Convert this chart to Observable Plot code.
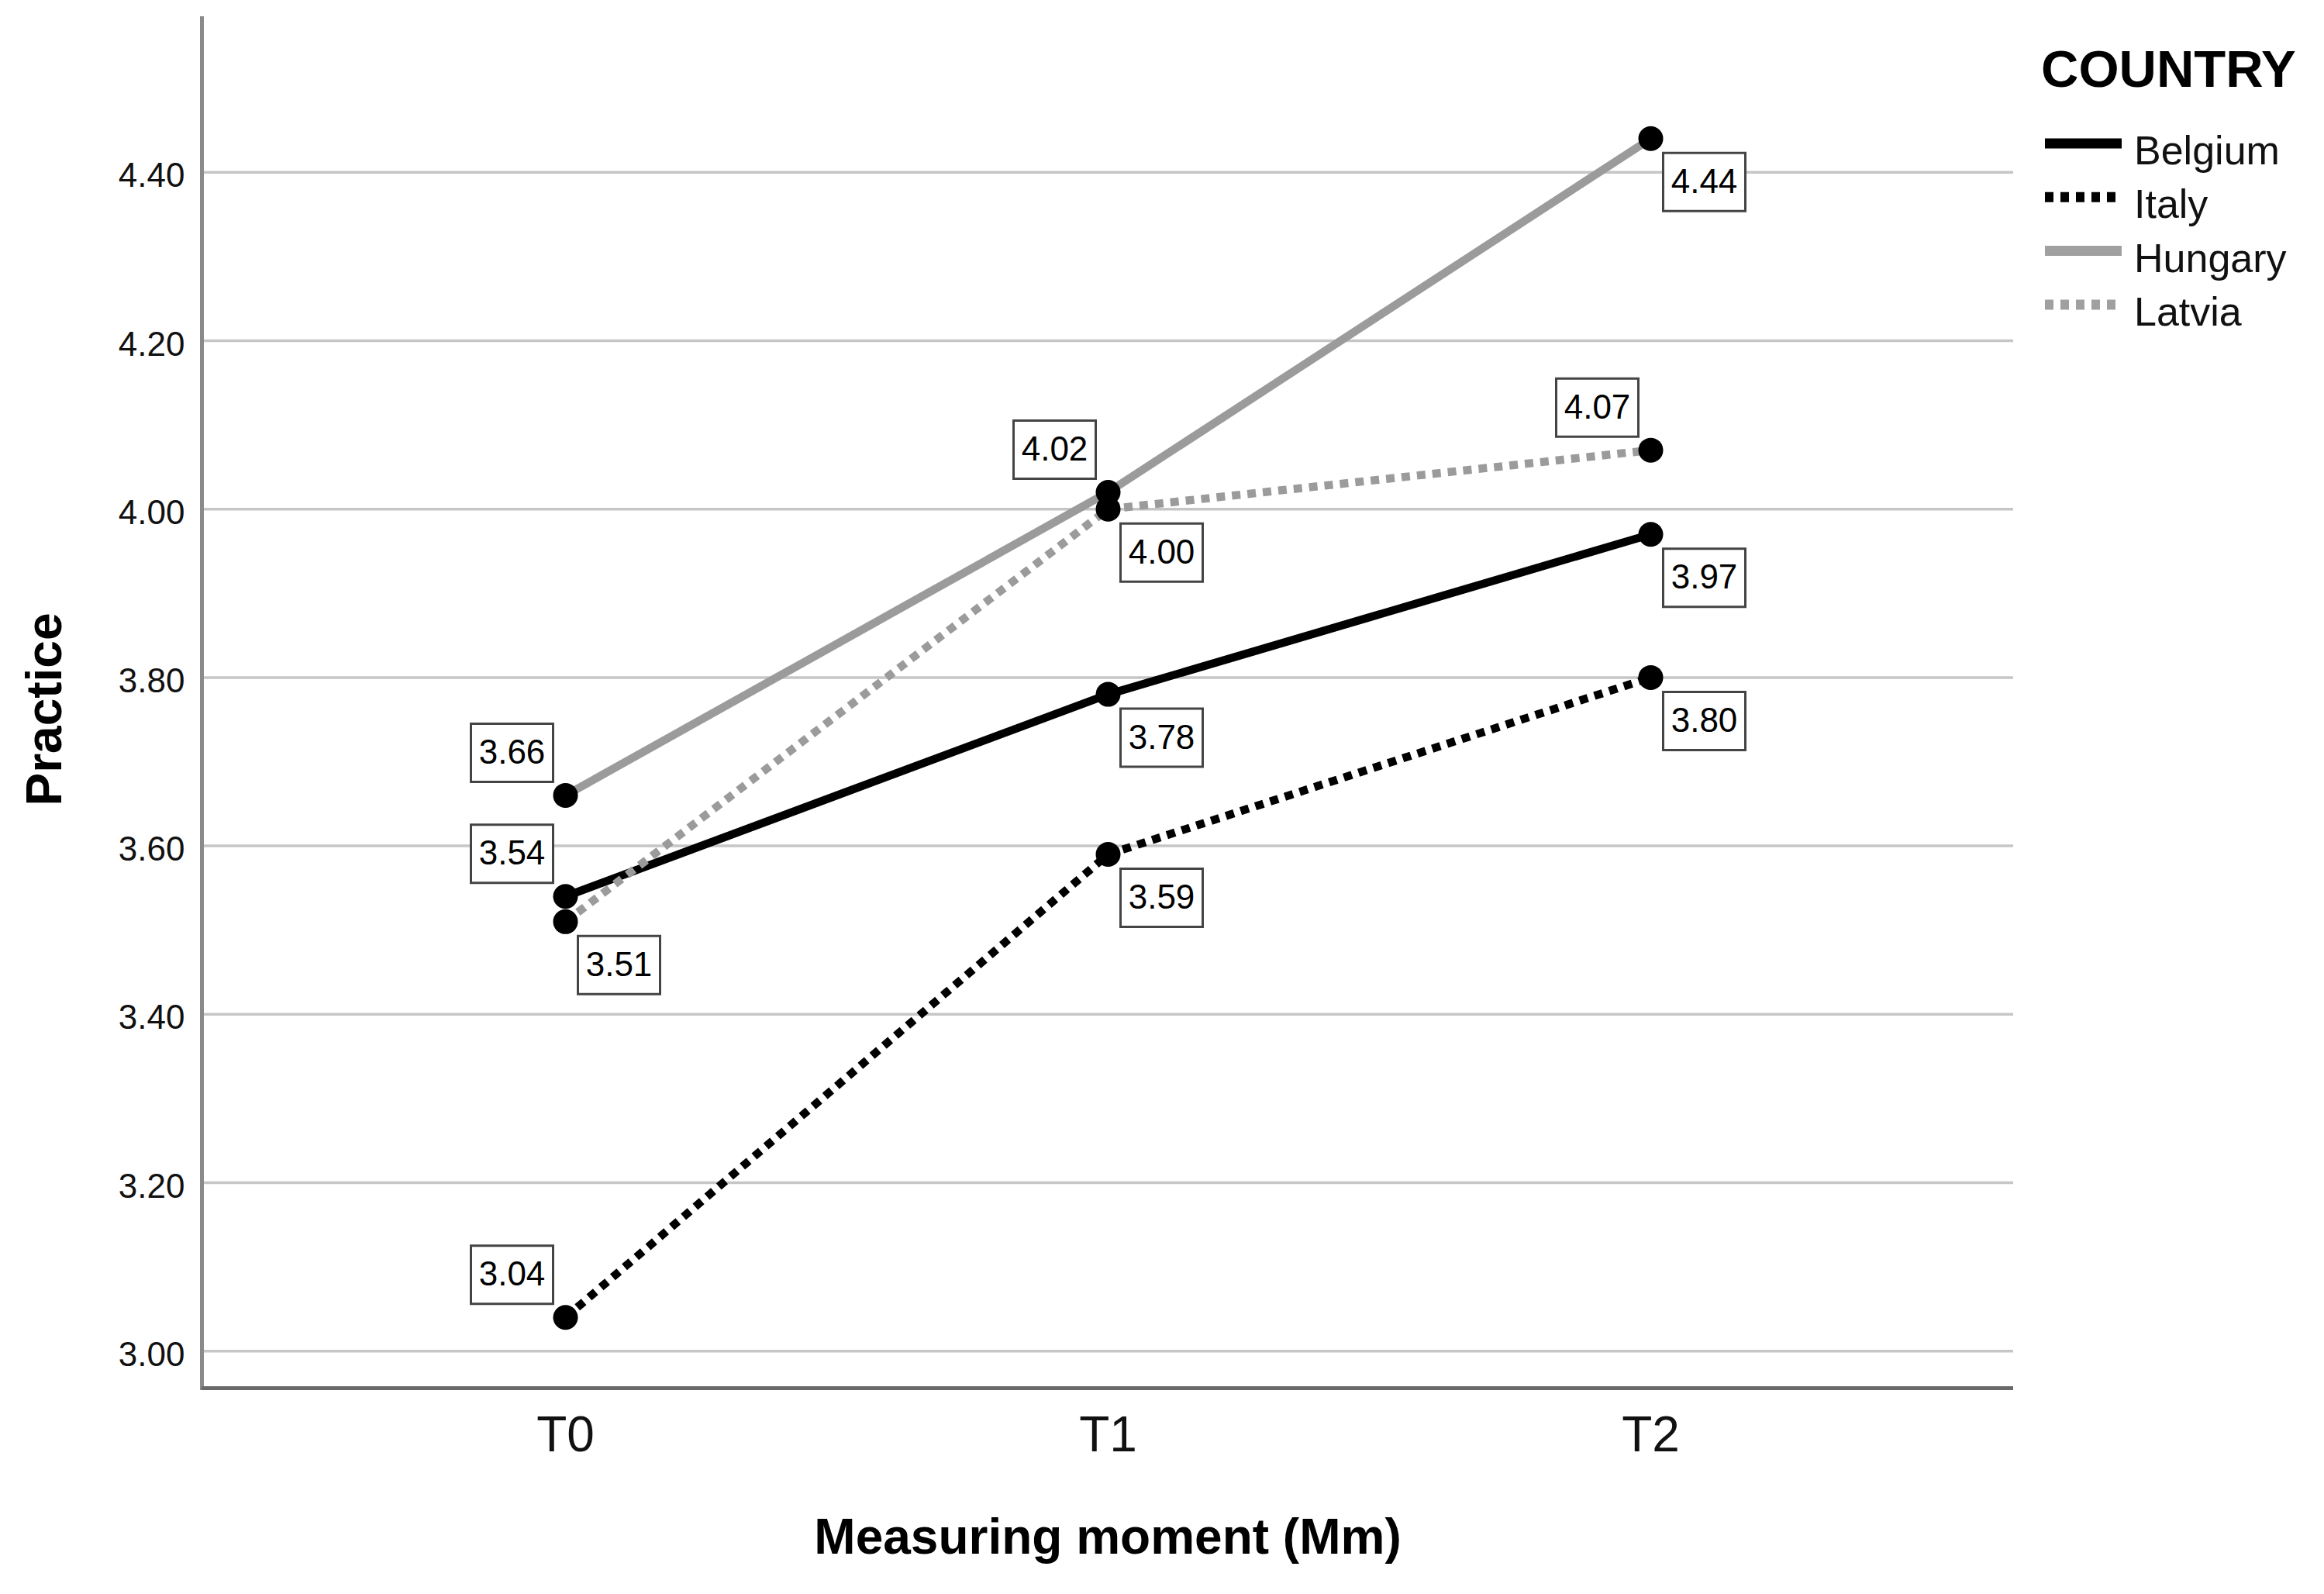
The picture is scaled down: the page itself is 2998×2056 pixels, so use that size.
<!DOCTYPE html>
<html>
<head>
<meta charset="utf-8">
<script src="https://cdn.jsdelivr.net/npm/d3@7"></script>
<script src="https://cdn.jsdelivr.net/npm/@observablehq/plot@0.6"></script>
<style>
  body { margin: 0; background: #fff; font-family: "Liberation Sans", Arial, sans-serif; }
  #wrap { position: relative; width: 2998px; height: 2056px; background: #fff; }
  #legend { position: absolute; left: 2600px; top: 0px; }
</style>
</head>
<body>
<div id="wrap"></div>
<script>
// ---- Data ----
const moments = ["T0", "T1", "T2"];
const countries = ["Belgium", "Italy", "Hungary", "Latvia"];
const belgium = [3.54, 3.78, 3.97];
const italy   = [3.04, 3.59, 3.80];
const hungary = [3.66, 4.02, 4.44];
const latvia  = [3.51, 4.00, 4.07];
const yTicks = [3.00, 3.20, 3.40, 3.60, 3.80, 4.00, 4.20, 4.40];
const xLabel = "Measuring moment (Mm)";
const yLabel = "Practice";
const legendTitle = "COUNTRY";

// label placement (above-left or below-right of each point)
const labelSide = {
  Belgium: ["above", "below", "below"],
  Italy:   ["above", "below", "below"],
  Hungary: ["above", "above", "below"],
  Latvia:  ["below", "below", "above"]
};

// series styles
const seriesStyle = {
  Belgium: { stroke: "#000000", dash: null },
  Italy:   { stroke: "#000000", dash: "11,9" },
  Hungary: { stroke: "#9b9b9b", dash: null },
  Latvia:  { stroke: "#9b9b9b", dash: "11,9" }
};

const seriesValues = { Belgium: belgium, Italy: italy, Hungary: hungary, Latvia: latvia };
const rows = [];
for (const c of countries) {
  seriesValues[c].forEach((v, i) => rows.push({ country: c, moment: moments[i], value: v, side: labelSide[c][i] }));
}

const boxW = 106, boxH = 75;
const boxSymbol = { draw(ctx) { ctx.rect(-boxW / 2, -boxH / 2, boxW, boxH); } };
const offAbove = { dx: -69, dy: -55 };
const offBelow = { dx: 69, dy: 56 };

const yDomain = [2.956, 4.583];

const marks = [
  Plot.ruleY(yTicks, { stroke: "#c6c6c6", strokeWidth: 3.5 }),
  Plot.frame({ anchor: "left", stroke: "#8a8a8a", strokeWidth: 5 }),
  Plot.ruleY([yDomain[0]], { stroke: "#6a6a6a", strokeWidth: 5 }),
  Plot.axisY(yTicks, { tickSize: 0, tickPadding: 22, tickFormat: d => d.toFixed(2), fontSize: 44, dy: 5, fill: "#111" }),
  Plot.axisX({ tickSize: 0, tickPadding: 36, fontSize: 64, fill: "#111" })
];

for (const c of countries) {
  marks.push(Plot.line(rows.filter(r => r.country === c), {
    x: "moment", y: "value",
    stroke: seriesStyle[c].stroke,
    strokeWidth: 10.5,
    strokeDasharray: seriesStyle[c].dash,
    strokeLinecap: "butt"
  }));
}

marks.push(Plot.dot(rows, { x: "moment", y: "value", r: 16, fill: "#000" }));

for (const [side, off] of [["above", offAbove], ["below", offBelow]]) {
  const sub = rows.filter(r => r.side === side);
  marks.push(Plot.dot(sub, { x: "moment", y: "value", symbol: boxSymbol, r: 10, dx: off.dx, dy: off.dy, fill: "white", stroke: "#444", strokeWidth: 3 }));
  marks.push(Plot.text(sub, { x: "moment", y: "value", text: d => d.value.toFixed(2), dx: off.dx, dy: off.dy, fontSize: 44, fill: "#000" }));
}

marks.push(Plot.text([xLabel], { text: d => d, frameAnchor: "bottom", textAnchor: "middle", lineAnchor: "middle", dy: 193, fontSize: 64, fontWeight: "bold", fill: "#000" }));
marks.push(Plot.text([yLabel], { text: d => d, frameAnchor: "left", textAnchor: "middle", lineAnchor: "middle", rotate: -90, dx: -202, dy: 8, fontSize: 64, fontWeight: "bold", fill: "#000" }));

const chart = Plot.plot({
  width: 2998,
  height: 2056,
  marginLeft: 260,
  marginRight: 401,
  marginTop: 23,
  marginBottom: 266,
  style: { fontFamily: "Liberation Sans, Arial, sans-serif", fontSize: "44px", background: "white", color: "black" },
  x: { type: "point", domain: moments, padding: 0.668, label: null },
  y: { domain: yDomain, label: null },
  marks
});

const wrap = document.getElementById("wrap");
wrap.appendChild(chart);

// ---- Legend ----
const legend = d3.select(wrap).append("svg")
  .attr("id", "legend")
  .attr("width", 398).attr("height", 450)
  .style("font-family", "Liberation Sans, Arial, sans-serif");
legend.append("text").attr("x", 33).attr("y", 112)
  .attr("font-size", 67).attr("font-weight", "bold").attr("fill", "#000").text(legendTitle);
countries.forEach((c, i) => {
  const cy = 185 + 69.3 * i;
  legend.append("line").attr("x1", 38).attr("x2", 137).attr("y1", cy).attr("y2", cy)
    .attr("stroke", seriesStyle[c].stroke === "#9b9b9b" ? "#a0a0a0" : "#000")
    .attr("stroke-width", 13)
    .attr("stroke-dasharray", seriesStyle[c].dash ? "11,9" : null);
  legend.append("text").attr("x", 153).attr("y", cy + 27)
    .attr("font-size", 52).attr("fill", "#111").text(c);
});
</script>
</body>
</html>
